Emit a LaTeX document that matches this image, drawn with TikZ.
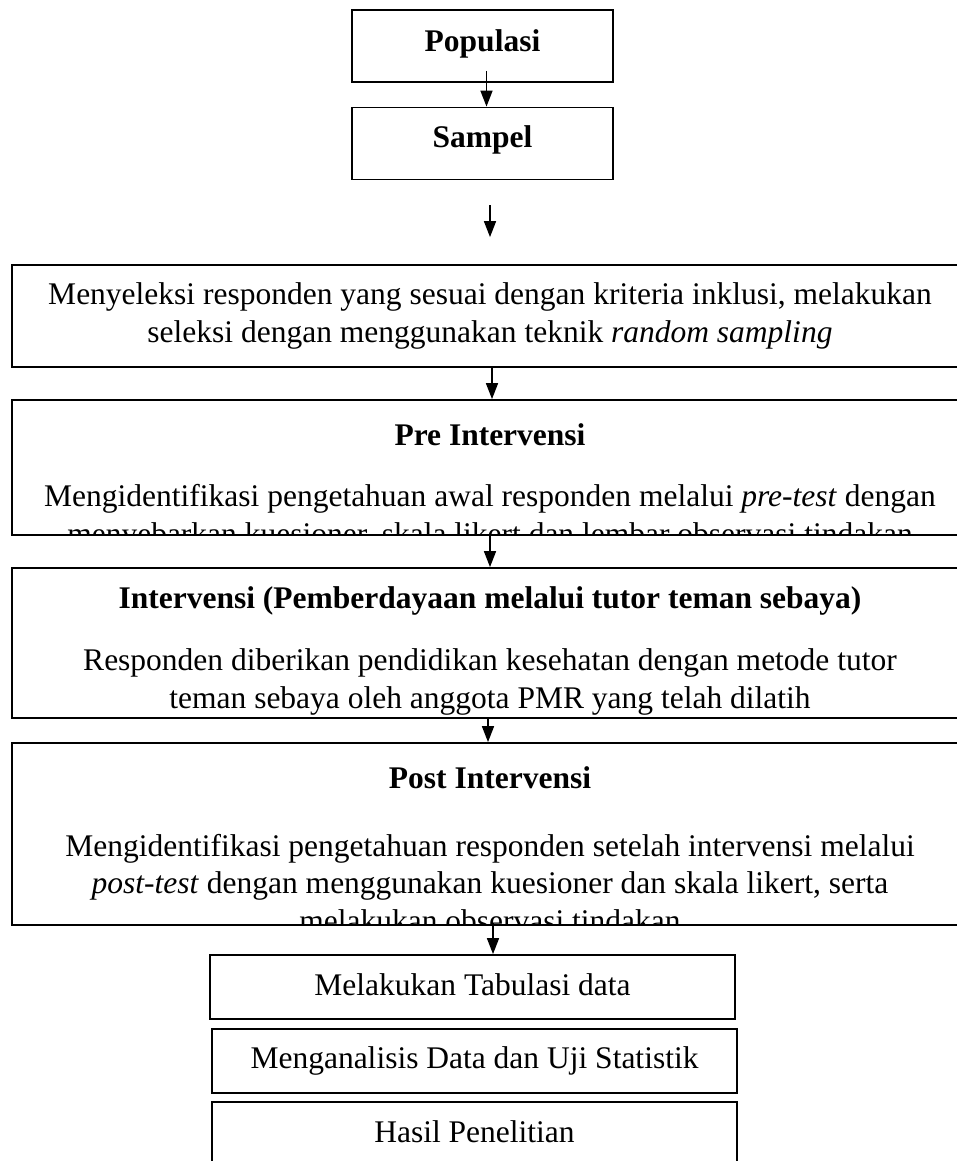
\documentclass[tikz,border=0pt]{standalone}
\usepackage{fontspec}
\setmainfont{Liberation Serif}
\usetikzlibrary{arrows.meta}

\begin{document}
\begin{tikzpicture}[x=1pt, y=-1pt,
    smallbox/.style={draw, line width=1.8pt, inner sep=0pt, minimum width=261pt, minimum height=72pt},
    widebox/.style={draw, line width=1.8pt, inner sep=0pt, minimum width=956pt},
    endbox/.style={draw, line width=1.8pt, inner sep=0pt, minimum width=525pt, minimum height=64pt},
    txt/.style={font=\fontsize{31.5pt}{37.5pt}\selectfont, inner sep=0pt, align=center, anchor=base},
    head/.style={txt, font=\fontsize{31.5pt}{37.5pt}\selectfont\bfseries},
    arrow/.style={-{Triangle[length=16pt, width=12pt]}, line width=1.6pt},
  ]
    \useasboundingbox (0,0) rectangle (956,1161);
    % boxes
    \node[smallbox] (pop)  at (482.5,46)   {};
    \node[smallbox] (samp) at (482.5,143.5) {};
    \node[widebox, minimum height=102pt] (sel)  at (490,316)   {};
    \node[widebox, minimum height=135pt] (pre)  at (490,467.5) {};
    \node[widebox, minimum height=150pt] (int)  at (490,643)   {};
    \node[widebox, minimum height=182pt] (post) at (490,834)   {};
    \node[endbox] (tab)  at (472.5,987)  {};
    \node[endbox] (anl)  at (474.5,1061) {};
    \node[endbox, minimum height=74pt] (hsl) at (474.5,1139) {};
    % texts (base of a multi-line node = its last line)
    \node[head] (popt)  at (482.5,52)  {Populasi};
    \node[head] (sampt) at (482.5,148) {Sampel};
    \node[txt]  (selt)  at (490,342)   {Menyeleksi responden yang sesuai dengan kriteria inklusi, melakukan\\
                                        seleksi dengan menggunakan teknik \textit{random sampling}};
    \begin{scope}
      \clip (pre.south west) rectangle (pre.north east);
      \node[head] (pret) at (490,445) {Pre Intervensi};
      \node[txt]  (preb) at (490,544) {Mengidentifikasi pengetahuan awal responden melalui \textit{pre-test} dengan\\
                                       menyebarkan kuesioner, skala likert dan lembar observasi tindakan};
    \end{scope}
    \begin{scope}
      \clip (int.south west) rectangle (int.north east);
      \node[head] (intt) at (490,608) {Intervensi (Pemberdayaan melalui tutor teman sebaya)};
      \node[txt]  (intb) at (490,708) {Responden diberikan pendidikan kesehatan dengan metode tutor\\
                                       teman sebaya oleh anggota PMR yang telah dilatih};
    \end{scope}
    \begin{scope}
      \clip (post.south west) rectangle (post.north east);
      \node[head] (postt) at (490,788) {Post Intervensi};
      \node[txt]  (postb) at (490,931) {Mengidentifikasi pengetahuan responden setelah intervensi melalui\\
                                        \textit{post-test} dengan menggunakan kuesioner dan skala likert, serta\\
                                        melakukan observasi tindakan};
    \end{scope}
    \node[txt] (tabt) at (472.5,995)  {Melakukan Tabulasi data};
    \node[txt] (anlt) at (474.5,1068) {Menganalisis Data dan Uji Statistik};
    \node[txt] (hslt) at (474.5,1142) {Hasil Penelitian};
    % arrows
    \draw[arrow] ([xshift=4pt, yshift=12pt]pop.south) -- ([xshift=4pt]samp.north);
    \draw[arrow] ([xshift=7.5pt, yshift=-25pt]samp.south) -- ([yshift=27pt]sel.north);
    \draw[arrow] ([xshift=2pt]sel.south) -- ([xshift=2pt]pre.north);
    \draw[arrow] (pre.south) -- (int.north);
    \draw[arrow] ([xshift=-2pt]int.south) -- ([xshift=-2pt]post.north);
    \draw[arrow] ([xshift=3pt, yshift=3pt]post.south) -- ([xshift=20.5pt]tab.north);
\end{tikzpicture}
\end{document}
